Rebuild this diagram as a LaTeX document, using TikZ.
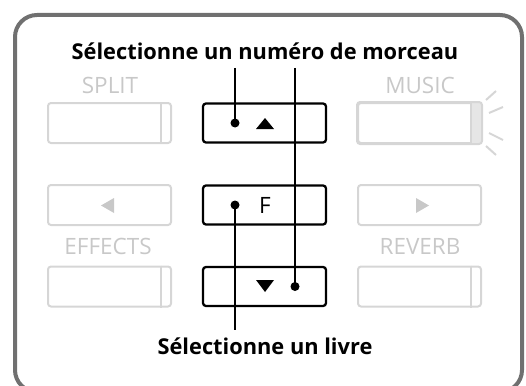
\documentclass[tikz,border=0pt]{standalone}
\usepackage{fontspec}
\setmainfont{Open Sans}
\definecolor{framegray}{HTML}{707070}
\definecolor{btngray}{HTML}{D6D6D6}
\definecolor{lblgray}{HTML}{C8C8C8}
\definecolor{stripefill}{HTML}{E6E6E6}
\begin{document}
\begin{tikzpicture}[x=1pt,y=-1pt,
  frame/.style={draw=framegray, line width=4pt, rounded corners=22pt},
  gbtn/.style={draw=btngray, line width=2pt, rounded corners=3pt, minimum width=123pt, minimum height=40pt, inner sep=0pt},
  kbtn/.style={draw=black, line width=2.3pt, rounded corners=3pt, minimum width=123pt, minimum height=39pt, inner sep=0pt, font=\fontsize{22.5}{26}\selectfont},
  glabel/.style={text=lblgray, anchor=base, inner sep=0pt, font=\fontsize{22.5}{26}\selectfont},
  titlelbl/.style={anchor=base, inner sep=0pt, font=\bfseries\fontsize{21.8}{26}\selectfont},
  kdot/.style={circle, fill=black, inner sep=0pt, minimum size=9pt},
  conn/.style={line width=1.3pt},
  gline/.style={draw=btngray, line width=2pt},
  ray/.style={draw=btngray, line width=2pt},
  gtri/.style={fill=lblgray},
  ktri/.style={fill=black}
]
\useasboundingbox (0,0) rectangle (526,385);
\draw[frame] (15,15) rectangle (522,392);

% labels
\node[titlelbl] (title) at (265,59.5) {Sélectionne un numéro de morceau};
\node[titlelbl] (title2) at (265,354) {Sélectionne un livre};
\node[glabel] (lsplit) at (110,93) {SPLIT};
\node[glabel] (lmusic) at (420,93) {MUSIC};
\node[glabel] (leffects) at (108,254) {EFFECTS};
\node[glabel] (lreverb) at (420,254) {REVERB};

% gray buttons
\node[gbtn] (split) at (109.5,123) {};
\node[gbtn] (music) at (419.5,123) {};
\node[gbtn] (left) at (109.5,205) {};
\node[gbtn] (right) at (419.5,205) {};
\node[gbtn] (effects) at (109.5,286.5) {};
\node[gbtn] (reverb) at (419.5,286.5) {};

% stripes
\draw[gline] ([xshift=-11pt]split.north east) -- ([xshift=-11pt]split.south east);
\draw[gline] ([xshift=-11pt]effects.north east) -- ([xshift=-11pt]effects.south east);
\draw[gline] ([xshift=-11pt]reverb.north east) -- ([xshift=-11pt]reverb.south east);
\begin{scope}
  \clip[rounded corners=3pt] (music.north west) rectangle (music.south east);
  \fill[stripefill] ([xshift=-11pt]music.north east) rectangle (music.south east);
\end{scope}
\draw[gline] ([xshift=-11pt]music.north east) -- ([xshift=-11pt]music.south east);
\draw[gline, rounded corners=3pt] (music.north west) rectangle (music.south east);

% rays
\draw[ray] (486,100) -- (496,91);
\draw[ray] (489,113) -- (503,107);
\draw[ray] (489,133) -- (503,140);
\draw[ray] (486,146) -- (496,155);

% gray triangles
\fill[gtri, shift={(left.center)}] (-8.5,0.5) -- (4.5,-7) -- (4.5,8) -- cycle;
\fill[gtri, shift={(right.center)}] (9.5,0.5) -- (-3.5,-7) -- (-3.5,8) -- cycle;

% black buttons
\node[kbtn] (up) at (264.5,123) {};
\node[kbtn] (fbtn) at (264.5,205) {\hspace*{1pt}F};
\node[kbtn] (down) at (264.5,286.5) {};

\fill[ktri, shift={(up.center)}] (-8.5,6) -- (9.5,6) -- (0.5,-5) -- cycle;
\fill[ktri, shift={(down.center)}] (-8.5,-6.5) -- (9.5,-6.5) -- (0.5,5.5) -- cycle;

% dots
\node[kdot] (updot) at (235,123) {};
\node[kdot] (fdot) at (235,205) {};
\node[kdot] (downdot) at (295,286.5) {};

% connector ends
\coordinate (tA) at (235,68);
\coordinate (tB) at (295,68);
\coordinate (bA) at (235,330);

\draw[conn] (tA) -- (updot.center);
\draw[conn] (tB) -- (downdot.center);
\draw[conn] (fdot.center) -- (bA);
\end{tikzpicture}
\end{document}
